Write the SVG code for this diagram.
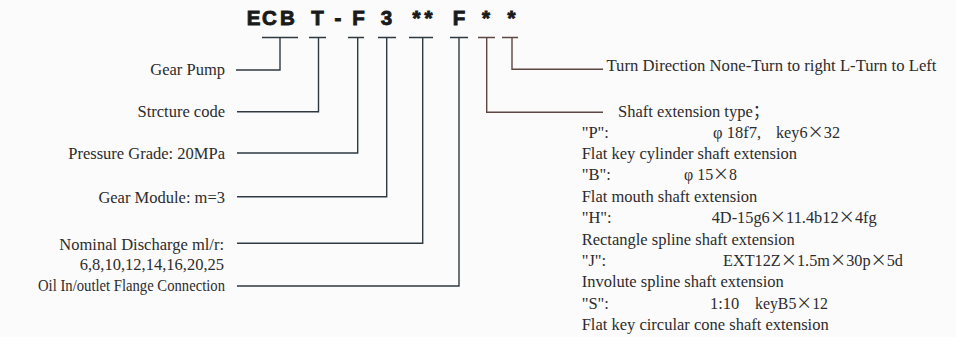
<svg xmlns="http://www.w3.org/2000/svg" width="956" height="337" viewBox="0 0 956 337">
<style>
.t{font-family:"Liberation Serif","Times New Roman","Noto Sans CJK SC",serif;font-size:16.5px;fill:#2c2c2c}
.e{text-anchor:end}
.x{font-family:"Noto Sans CJK SC",sans-serif}
.h{font-family:"Liberation Sans",Arial,sans-serif;font-weight:bold;font-size:20.5px;fill:#1a1a1a;text-anchor:middle;stroke:#1a1a1a;stroke-width:0.9}
.c{fill:none;stroke:#2f3a40;stroke-width:1.4}
.r{fill:none;stroke:#5e4642;stroke-width:1.4}
</style>
<rect width="956" height="337" fill="#fbfbfc"/>
<g id="code">
<text class="h" x="253.5" y="25">E</text>
<text class="h" x="269.5" y="25">C</text>
<text class="h" x="287.5" y="25">B</text>
<text class="h" x="317.5" y="25">T</text>
<text class="h" x="338" y="25">-</text>
<text class="h" x="358.5" y="25">F</text>
<text class="h" x="386.5" y="25">3</text>
<text class="h" x="416.5" y="25">*</text>
<text class="h" x="428.5" y="25">*</text>
<text class="h" x="459" y="25">F</text>
<text class="h" x="486" y="25">*</text>
<text class="h" x="511.5" y="25">*</text>
</g>
<g id="connectors">
<path class="c" d="M262 37.5H298M280 37.5V70H236"/>
<path class="c" d="M309 37.5H326M318.5 37.5V111.7H237"/>
<path class="c" d="M348 37.5H364M357.7 37.5V153H237"/>
<path class="c" d="M378 37.5H396M386.7 37.5V196.7H237"/>
<path class="c" d="M409 37.5H433M422.7 37.5V243.3H237"/>
<path class="c" d="M450 37.5H468M459 37.5V286H237"/>
<path class="r" d="M478 37.5H495M486.7 37.5V112.3H603"/>
<path class="r" d="M502 37.5H518M512 37.5V69.3H603"/>
</g>
<g id="gear-pump"><text class="t e" x="225" y="75">Gear Pump</text></g>
<g id="structure-code"><text class="t e" x="225" y="116.5">Strcture code</text></g>
<g id="pressure-grade"><text class="t e" x="225" y="158.5">Pressure Grade: 20MPa</text></g>
<g id="gear-module"><text class="t e" x="225" y="202.5">Gear Module: m=3</text></g>
<g id="nominal-discharge">
<text class="t e" x="224" y="249.5">Nominal Discharge ml/r:</text>
<text class="t e" x="224" y="269.5">6,8,10,12,14,16,20,25</text>
</g>
<g id="flange"><text class="t e" x="225" y="291" textLength="187" lengthAdjust="spacingAndGlyphs">Oil In/outlet Flange Connection</text></g>
<g id="turn-direction"><text class="t" x="606.5" y="71" textLength="330" lengthAdjust="spacingAndGlyphs">Turn Direction None-Turn to right L-Turn to Left</text></g>
<g id="shaft-extension">
<text class="t" x="618" y="116.5">Shaft extension type；</text>
<text class="t" x="581.7" y="138.3">"P":</text>
<text class="t" x="713" y="138.3">φ 18f7,</text>
<text class="t" x="776" y="138.3" textLength="64" lengthAdjust="spacingAndGlyphs">key6<tspan class="x">×</tspan>32</text>
<text class="t" x="581.7" y="159.3">Flat key cylinder shaft extension</text>
<text class="t" x="581.7" y="180.3">"B":</text>
<text class="t" x="684" y="180.3" textLength="53" lengthAdjust="spacingAndGlyphs">φ 15<tspan class="x">×</tspan>8</text>
<text class="t" x="581.7" y="201.5">Flat mouth shaft extension</text>
<text class="t" x="581.7" y="223">"H":</text>
<text class="t" x="711.7" y="223" textLength="165" lengthAdjust="spacingAndGlyphs">4D-15g6<tspan class="x">×</tspan>11.4b12<tspan class="x">×</tspan>4fg</text>
<text class="t" x="581.7" y="244.5">Rectangle spline shaft extension</text>
<text class="t" x="581.7" y="265.5">"J":</text>
<text class="t" x="723" y="265.5" textLength="180" lengthAdjust="spacingAndGlyphs">EXT12Z<tspan class="x">×</tspan>1.5m<tspan class="x">×</tspan>30p<tspan class="x">×</tspan>5d</text>
<text class="t" x="581.7" y="287">Involute spline shaft extension</text>
<text class="t" x="581.7" y="308.5">"S":</text>
<text class="t" x="710" y="308.5">1:10</text>
<text class="t" x="755" y="308.5" textLength="73" lengthAdjust="spacingAndGlyphs">keyB5<tspan class="x">×</tspan>12</text>
<text class="t" x="581.7" y="330">Flat key circular cone shaft extension</text>
</g>
</svg>
